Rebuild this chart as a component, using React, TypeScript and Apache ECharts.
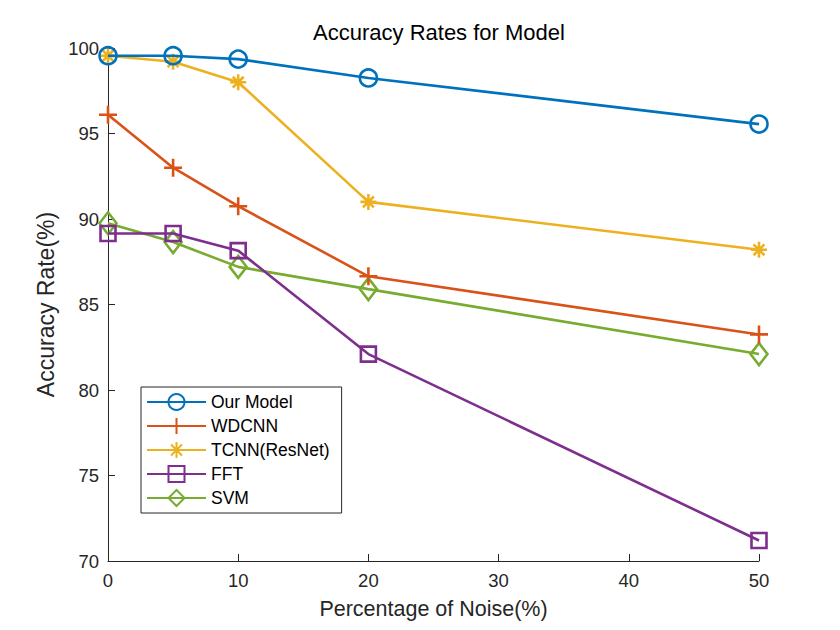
import React, { useEffect, useRef } from "react";
import * as echarts from "echarts";

const noise = [0, 5, 10, 20, 50];
const seriesNames = ["Our Model", "WDCNN", "TCNN(ResNet)", "FFT", "SVM"];
const ourModel = [99.55, 99.55, 99.35, 98.25, 95.55];
const wdcnn = [96.1, 93.0, 90.75, 86.65, 83.25];
const tcnn = [99.55, 99.2, 98.0, 91.0, 88.2];
const fft = [89.15, 89.15, 88.15, 82.1, 71.2];
const svm = [89.75, 88.65, 87.2, 85.9, 82.1];
const xTicks = [0, 10, 20, 30, 40, 50];
const yTicks = [70, 75, 80, 85, 90, 95, 100];

const COLORS = ["#0072BD", "#D95319", "#EDB120", "#7E2F8E", "#77AC30"];
const SYMBOLS = [
  "circle",
  "path://M5 0 L5 10 M0 5 L10 5",
  "path://M5 0 L5 10 M0 5 L10 5 M1.6 1.6 L8.4 8.4 M1.6 8.4 L8.4 1.6",
  "path://M0 0 L10 0 L10 10 L0 10 Z",
  "path://M5 0 L10 5 L5 10 L0 5 Z",
];
const SIZES: any[] = [17, 18, 16, 15, [17, 22]];
const FONT = "'Liberation Sans', Arial, Helvetica, sans-serif";

export default function App() {
  const ref = useRef<HTMLDivElement>(null);
  useEffect(() => {
    if (!ref.current) return;
    document.body.style.margin = "0";
    const chart = echarts.init(ref.current, null, { renderer: "svg" });
    const all = [ourModel, wdcnn, tcnn, fft, svm];
    const series = all.map((vals, i) => ({
      name: seriesNames[i],
      type: "line",
      data: noise.map((x, j) => [x, vals[j]]),
      symbol: SYMBOLS[i],
      symbolSize: SIZES[i],
      showAllSymbol: true,
      lineStyle: { color: COLORS[i], width: 2.6 },
      itemStyle: { color: "rgba(0,0,0,0)", borderColor: COLORS[i], borderWidth: 2.6 },
      emphasis: { disabled: true },
      z: 2 + (4 - i),
    }));
    chart.setOption({
      animation: false,
      backgroundColor: "#ffffff",
      title: {
        text: "Accuracy Rates for Model",
        left: 434,
        textAlign: "center",
        top: 16,
        textStyle: { fontFamily: FONT, fontSize: 22, fontWeight: "normal", color: "#000000" },
      },
      grid: { left: 108, right: 81, top: 48, bottom: 69, containLabel: false },
      legend: {
        orient: "vertical",
        left: 141,
        top: 387,
        data: seriesNames,
        itemWidth: 59,
        itemHeight: 20,
        itemGap: 6,
        padding: [6, 12, 6, 5],
        borderColor: "#262626",
        borderWidth: 1,
        backgroundColor: "#ffffff",
        textStyle: { fontFamily: FONT, fontSize: 17.5, color: "#000000" },
        selectedMode: false,
      },
      xAxis: {
        type: "value",
        min: 0,
        max: 50,
        interval: 10,
        name: "Percentage of Noise(%)",
        nameLocation: "middle",
        nameGap: 37,
        nameTextStyle: { fontFamily: FONT, fontSize: 21.5, color: "#262626" },
        axisLine: { show: true, lineStyle: { color: "#262626", width: 1 } },
        axisTick: { show: true, inside: true, length: 7, lineStyle: { color: "#262626" } },
        axisLabel: {
          fontFamily: FONT,
          fontSize: 18.5,
          color: "#262626",
          margin: 10,
          customValues: xTicks,
        },
        splitLine: { show: false },
      },
      yAxis: {
        type: "value",
        min: 70,
        max: 100,
        interval: 5,
        name: "Accuracy Rate(%)",
        nameLocation: "middle",
        nameGap: 48,
        nameRotate: 90,
        nameTextStyle: { fontFamily: FONT, fontSize: 23, color: "#262626" },
        axisLine: { show: true, lineStyle: { color: "#262626", width: 1 } },
        axisTick: { show: true, inside: true, length: 7, lineStyle: { color: "#262626" } },
        axisLabel: {
          fontFamily: FONT,
          fontSize: 18.5,
          color: "#262626",
          margin: 9,
          customValues: yTicks,
        },
        splitLine: { show: false },
      },
      series,
    } as any);
    return () => chart.dispose();
  }, []);
  return <div ref={ref} style={{ width: 840, height: 630 }} />;
}
